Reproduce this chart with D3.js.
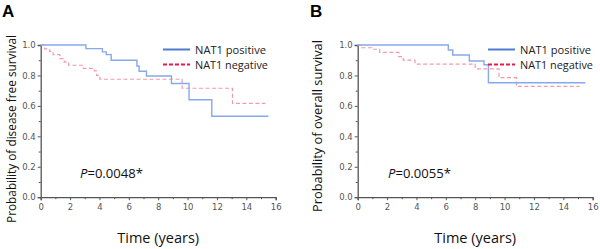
<!DOCTYPE html>
<html>
<head>
<meta charset="utf-8">
<script src="https://cdn.jsdelivr.net/npm/d3@7"></script>
<style>
  body { margin: 0; background: #fff; }
  svg { display: block; }
</style>
</head>
<body>
<svg width="600" height="249"></svg>
<script>
const width = 600, height = 249;

// survival step data
const dfsPosTime = [0, 3.08, 4.2, 4.46, 4.8, 6.55, 6.7, 7.2, 8.9, 10.1, 11.65, 15.5];
const dfsPosSurv = [1, 0.976, 0.955, 0.937, 0.90, 0.862, 0.828, 0.796, 0.747, 0.64, 0.532, 0.532];
const dfsNegTime = [0, 0.27, 0.6, 0.84, 1.3, 1.6, 1.9, 2.9, 3.65, 3.8, 4.03, 9.63, 13.06, 15.3];
const dfsNegSurv = [1, 0.974, 0.958, 0.937, 0.91, 0.888, 0.867, 0.847, 0.83, 0.80, 0.775, 0.716, 0.617, 0.617];

const osPosTime = [0, 6.17, 6.47, 7.6, 8.6, 8.9, 15.5];
const osPosSurv = [1, 0.967, 0.934, 0.895, 0.87, 0.752, 0.752];
const osNegTime = [0, 0.27, 0.95, 1.5, 2.8, 3.1, 3.9, 8.0, 9.62, 10.8, 15.1];
const osNegSurv = [1, 0.982, 0.972, 0.952, 0.923, 0.90, 0.875, 0.843, 0.785, 0.728, 0.728];

const xTicks = [0, 2, 4, 6, 8, 10, 12, 14, 16];
const yTicks = [0, 0.2, 0.4, 0.6, 0.8, 1.0];
const seriesNames = ["NAT1 positive", "NAT1 negative"];

const panels = [
  { letter: "A", left: 40.7, ylabel: "Probability of disease free survival", ylabW: 188, ylabX: 16, ylabY: 129,
    p: "0.0048*", pos: [dfsPosTime, dfsPosSurv], neg: [dfsNegTime, dfsNegSurv] },
  { letter: "B", left: 357.7, ylabel: "Probability of overall survival", ylabW: 172, ylabX: 322, ylabY: 126,
    p: "0.0055*", pos: [osPosTime, osPosSurv], neg: [osNegTime, osNegSurv] }
];

const svg = d3.select("svg");
const plotTop = 45, plotBottom = 197.2, plotW = 235;
const font = "'Open Sans', 'Noto Sans', sans-serif";

// shrink/grow font so the text spans about the width seen in the reference
function fit(t, w) {
  const fs = +t.attr("font-size");
  const cur = t.node().getComputedTextLength();
  t.attr("font-size", (fs * w / cur).toFixed(2));
}

panels.forEach((p, i) => {
  const ox = i * 300;
  const x = d3.scaleLinear().domain([0, 16]).range([p.left, p.left + plotW]);
  const y = d3.scaleLinear().domain([0, 1]).range([plotBottom, plotTop]);
  const g = svg.append("g");

  g.append("text")
    .attr("x", ox + (i ? 10 : 2)).attr("y", 17)
    .attr("font-family", "Liberation Sans, Arial, sans-serif")
    .attr("font-weight", "bold").attr("font-size", 17)
    .text(p.letter);

  // x axis
  g.append("g").attr("transform", `translate(0,${plotBottom})`)
    .call(d3.axisBottom(x).tickValues(xTicks).tickSize(3).tickPadding(4).tickFormat(d3.format("d")));
  g.append("g").attr("transform", `translate(0,${plotBottom})`)
    .call(d3.axisBottom(x).tickValues(d3.range(1, 16, 2)).tickSize(2).tickFormat(""))
    .call(a => a.select(".domain").remove());
  // y axis
  g.append("g").attr("transform", `translate(${p.left},0)`)
    .call(d3.axisLeft(y).tickValues(yTicks).tickSize(3).tickPadding(2).tickFormat(d3.format(".1f")));
  g.append("g").attr("transform", `translate(${p.left},0)`)
    .call(d3.axisLeft(y).tickValues([0.1, 0.3, 0.5, 0.7, 0.9]).tickSize(2).tickFormat(""))
    .call(a => a.select(".domain").remove());

  g.selectAll(".domain").attr("stroke", "#555").attr("stroke-width", 1.3);
  g.selectAll(".tick line").attr("stroke", "#555");
  g.selectAll(".tick text").attr("fill", "#555")
    .attr("font-family", "DejaVu Sans, sans-serif").attr("font-size", 8.5);

  // curves
  const line = d3.line().curve(d3.curveStepAfter).x(d => x(d[0])).y(d => y(d[1]));
  g.append("path").datum(d3.zip(p.neg[0], p.neg[1])).attr("d", line)
    .attr("fill", "none").attr("stroke", "#f29aa8").attr("stroke-width", 1.2)
    .attr("stroke-dasharray", "4,2.5");
  g.append("path").datum(d3.zip(p.pos[0], p.pos[1])).attr("d", line)
    .attr("fill", "none").attr("stroke", "#86a9ec").attr("stroke-width", 1.4);

  // legend
  const lx = ox + (i ? 188 : 163);
  const leg = g.append("g");
  [["#4d7bd0", null], ["#e8174f", "4,2"]].forEach((s, k) => {
    const ly = 49.5 + k * 15;
    leg.append("line").attr("x1", lx).attr("x2", lx + 27).attr("y1", ly).attr("y2", ly)
      .attr("stroke", s[0]).attr("stroke-width", 2).attr("stroke-dasharray", s[1]);
    const t = leg.append("text").attr("x", lx + 32).attr("y", ly + 4.5)
      .attr("font-family", font).attr("font-size", 12).attr("fill", "#222")
      .text(seriesNames[k]);
    fit(t, k ? 73 : 71);
  });

  // p value
  const pt = g.append("text").attr("x", ox + (i ? 88 : 80)).attr("y", 177.5)
    .attr("font-family", font).attr("font-size", 14).attr("fill", "#111");
  pt.append("tspan").attr("font-style", "italic").text("P");
  pt.append("tspan").text("=" + p.p);
  fit(pt, 63);

  // axis titles
  const xt = g.append("text").attr("x", p.left + plotW / 2).attr("y", 243)
    .attr("text-anchor", "middle").attr("font-family", font)
    .attr("font-size", 14).attr("fill", "#111").text("Time (years)");
  fit(xt, 82);
  const yt = g.append("text")
    .attr("transform", `translate(${p.ylabX},${p.ylabY}) rotate(-90)`)
    .attr("text-anchor", "middle").attr("font-family", font)
    .attr("font-size", 12).attr("fill", "#111").text(p.ylabel);
  fit(yt, p.ylabW);
});
</script>
</body>
</html>
